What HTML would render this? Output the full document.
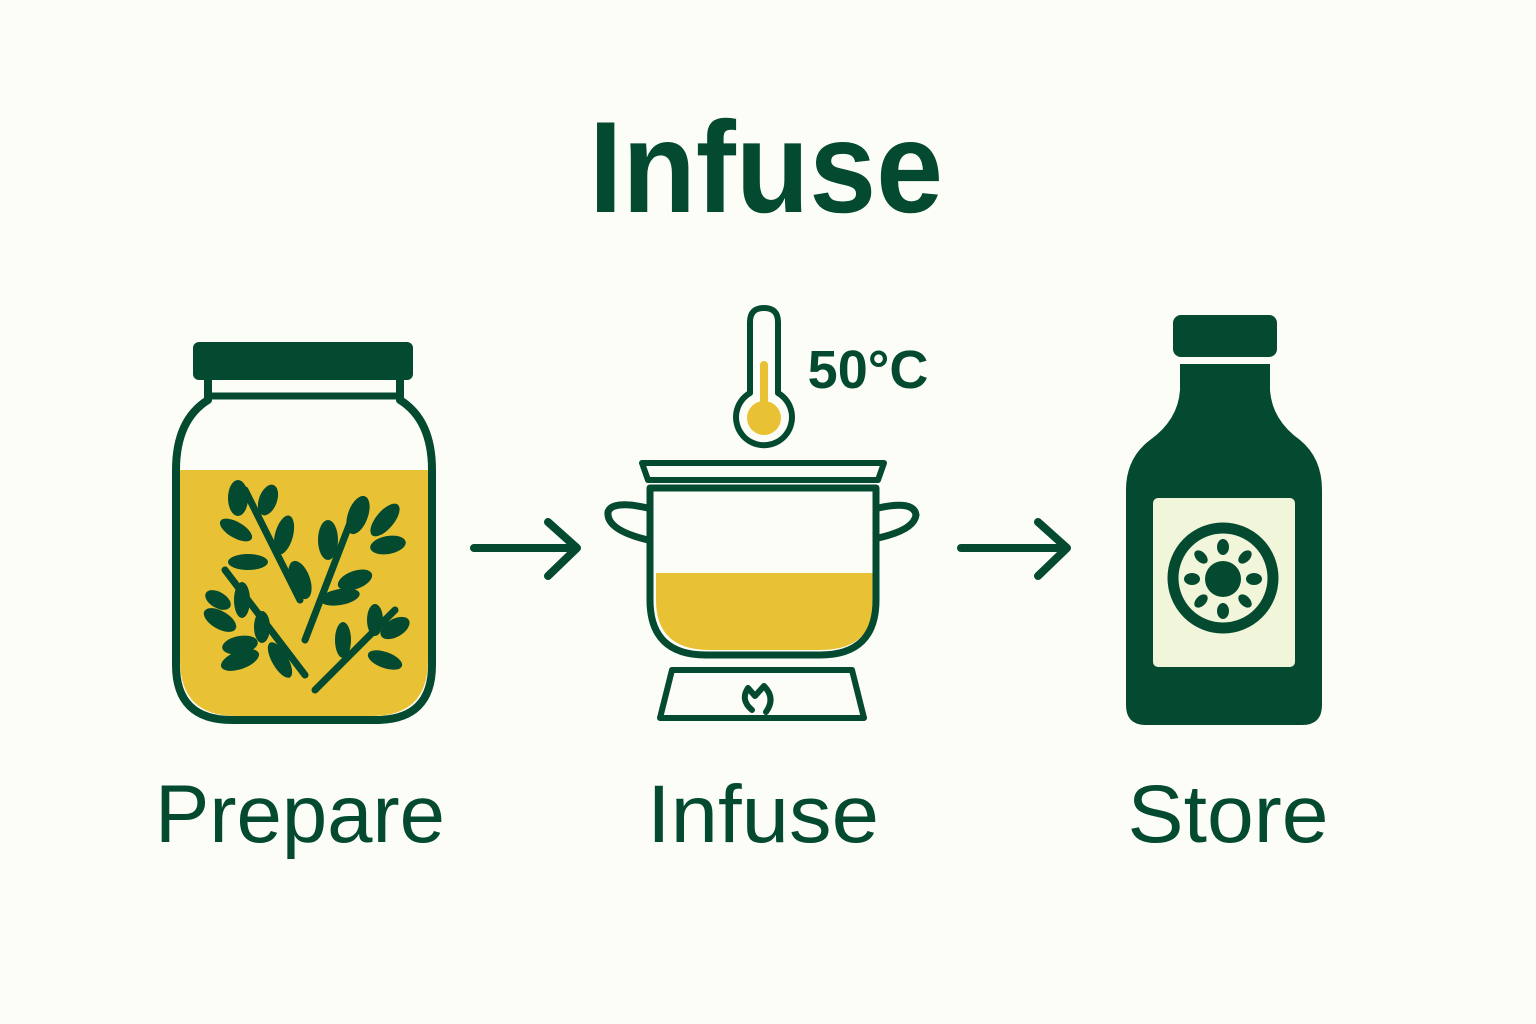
<!DOCTYPE html>
<html><head><style>html,body{margin:0;padding:0;background:#fcfdf6;}svg{display:block}</style></head>
<body>
<svg width="1536" height="1024" viewBox="0 0 1536 1024" xmlns="http://www.w3.org/2000/svg">
<rect width="1536" height="1024" fill="#fcfdf6"/>
<g font-family="Liberation Sans, sans-serif" fill="#034a30" text-anchor="middle">
<text x="766" y="212" font-size="130" font-weight="bold" textLength="354" lengthAdjust="spacingAndGlyphs">Infuse</text>
<text x="300" y="842" font-size="82" textLength="290" lengthAdjust="spacingAndGlyphs">Prepare</text>
<text x="763" y="842" font-size="82" textLength="232" lengthAdjust="spacingAndGlyphs">Infuse</text>
<text x="1228" y="842" font-size="82" textLength="201" lengthAdjust="spacingAndGlyphs">Store</text>
<text x="868" y="388" font-size="54" font-weight="bold">50°C</text>
</g>
<g stroke="#034a30" fill="none" stroke-linecap="round" stroke-linejoin="round">
<!-- jar -->
<rect x="193" y="342" width="220" height="38" rx="6" fill="#034a30" stroke="none"/>
<path d="M180 470 H428 V660 Q428 716 372 716 H236 Q180 716 180 660 Z" fill="#e8c234" stroke="none"/>
<path d="M208 380 V400 Q176 420 176 470 V665 Q176 720 232 720 H376 Q432 720 432 665 V470 Q432 420 400 400 V380" stroke-width="8"/>
<line x1="208" y1="396" x2="400" y2="396" stroke-width="7"/>
<g stroke-width="7">
<path d="M245 490 L300 600"/><path d="M225 570 L305 675"/><path d="M305 640 L355 510"/><path d="M315 690 L395 610"/>
</g>
<g fill="#034a30" stroke="none">
<ellipse cx="238" cy="498" rx="10" ry="18"/><ellipse cx="268" cy="500" rx="9" ry="16" transform="rotate(20 268 500)"/>
<ellipse cx="236" cy="530" rx="18" ry="8" transform="rotate(30 236 530)"/><ellipse cx="284" cy="535" rx="9" ry="20" transform="rotate(15 284 535)"/>
<ellipse cx="248" cy="562" rx="20" ry="8"/>
<ellipse cx="328" cy="540" rx="10" ry="20"/><ellipse cx="358" cy="515" rx="10" ry="20" transform="rotate(20 358 515)"/>
<ellipse cx="385" cy="520" rx="9" ry="20" transform="rotate(40 385 520)"/><ellipse cx="388" cy="545" rx="18" ry="9" transform="rotate(-10 388 545)"/>
<ellipse cx="300" cy="580" rx="10" ry="20" transform="rotate(-20 300 580)"/><ellipse cx="355" cy="580" rx="18" ry="9" transform="rotate(-20 355 580)"/>
<ellipse cx="340" cy="597" rx="20" ry="8" transform="rotate(-10 340 597)"/>
<ellipse cx="218" cy="600" rx="14" ry="8" transform="rotate(30 218 600)"/><ellipse cx="220" cy="620" rx="18" ry="9" transform="rotate(30 220 620)"/>
<ellipse cx="242" cy="600" rx="8" ry="18"/><ellipse cx="240" cy="645" rx="18" ry="9" transform="rotate(-10 240 645)"/>
<ellipse cx="240" cy="660" rx="20" ry="9" transform="rotate(-20 240 660)"/><ellipse cx="262" cy="627" rx="8" ry="16"/>
<ellipse cx="280" cy="660" rx="8" ry="20" transform="rotate(-30 280 660)"/>
<ellipse cx="343" cy="640" rx="8" ry="18"/><ellipse cx="375" cy="620" rx="8" ry="16"/><ellipse cx="395" cy="628" rx="16" ry="9" transform="rotate(-30 395 628)"/>
<ellipse cx="385" cy="660" rx="18" ry="8" transform="rotate(20 385 660)"/>
</g>
<!-- arrows -->
<path d="M474 548 H576 M548 522 L577 548 L548 576" stroke-width="8"/>
<path d="M961 548 H1066 M1038 522 L1067 548 L1038 576" stroke-width="8"/>
<!-- thermometer -->
<path d="M750 393 V322 Q750 308 764 308 Q778 308 778 322 V393 A28 28 0 1 1 750 393 Z" stroke-width="6" fill="#fcfdf6"/>
<path d="M764 365 V415" stroke="#e8c234" stroke-width="8"/>
<circle cx="764" cy="418" r="17" fill="#e8c234" stroke="none"/>
<!-- pot -->
<path d="M656 573 H874 V600 Q874 650 820 650 H710 Q656 650 656 600 Z" fill="#e8c234" stroke="none"/>
<path d="M642 463 H884 L878 480 H648 Z" stroke-width="6"/>
<path d="M650 488 H876 V600 Q876 655 820 655 H706 Q650 655 650 600 Z" stroke-width="7"/>
<path d="M648 508 Q612 500 608 512 Q606 530 648 540" stroke-width="7"/>
<path d="M878 508 Q914 500 916 515 Q914 530 878 538" stroke-width="7"/>
<path d="M672 670 H852 L864 718 H660 Z" stroke-width="6"/>
<path d="M752 710 Q740 700 748 688 L755 696 L764 686 Q776 698 766 712" stroke-width="6"/>
</g>
<!-- bottle -->
<g fill="#034a30">
<rect x="1173" y="315" width="104" height="42" rx="8"/>
<path d="M1180 364 H1270 V390 Q1272 420 1300 440 Q1322 458 1322 490 V705 Q1322 725 1302 725 H1146 Q1126 725 1126 705 V490 Q1126 458 1150 440 Q1178 420 1180 390 Z"/>
<rect x="1153" y="498" width="142" height="169" rx="5" fill="#f1f5da"/>
<circle cx="1223" cy="578" r="50" fill="none" stroke="#034a30" stroke-width="11"/>
<circle cx="1223" cy="579" r="18"/>
<g>
<ellipse cx="1223" cy="547" rx="6" ry="8"/><ellipse cx="1223" cy="611" rx="6" ry="8"/>
<ellipse cx="1192" cy="579" rx="8" ry="6"/><ellipse cx="1254" cy="579" rx="8" ry="6"/>
<ellipse cx="1201" cy="557" rx="5" ry="8" transform="rotate(-45 1201 557)"/><ellipse cx="1245" cy="557" rx="5" ry="8" transform="rotate(45 1245 557)"/>
<ellipse cx="1201" cy="601" rx="5" ry="8" transform="rotate(45 1201 601)"/><ellipse cx="1245" cy="601" rx="5" ry="8" transform="rotate(-45 1245 601)"/>
</g>
</g>
</svg>
</body></html>
